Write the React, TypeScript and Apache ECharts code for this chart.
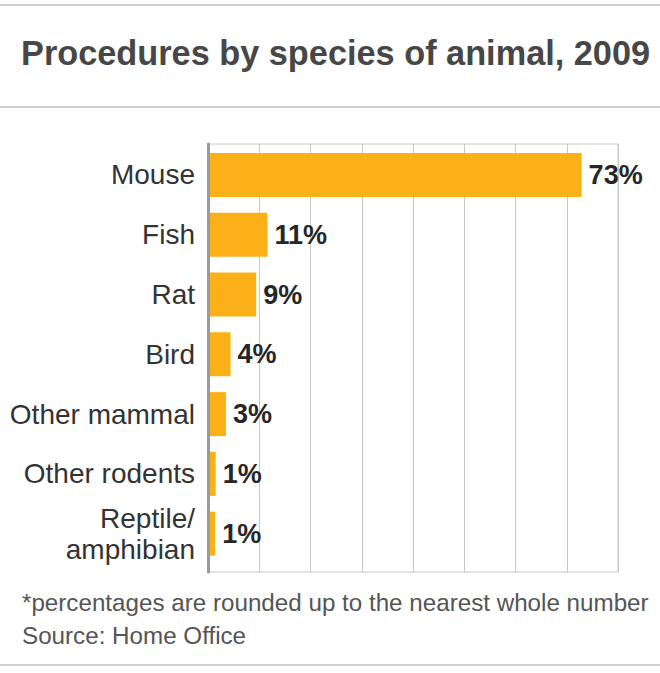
import React, { useEffect, useRef } from "react";
import * as echarts from "echarts";

const titleText = "Procedures by species of animal, 2009";
const categories = ["Mouse", "Fish", "Rat", "Bird", "Other mammal", "Other rodents", "Reptile/\namphibian"];
const values = [72.9, 11.6, 9.4, 4.4, 3.5, 1.5, 1.4];
const valueLabels = ["73%", "11%", "9%", "4%", "3%", "1%", "1%"];
const axisMin = 0;
const axisMax = 80;
const axisInterval = 10;
const footnote = "*percentages are rounded up to the nearest whole number";
const sourceText = "Source: Home Office";

const FONT = "'Liberation Sans', Arial, Helvetica, sans-serif";

export default function App() {
  const ref = useRef<HTMLDivElement>(null);
  useEffect(() => {
    if (!ref.current) return;
    const chart = echarts.init(ref.current, undefined, { renderer: "svg" });
    chart.setOption({
      animation: false,
      backgroundColor: "#ffffff",
      title: {
        text: titleText,
        left: 16,
        top: 31,
        textStyle: { fontFamily: FONT, fontSize: 34.3, fontWeight: "bold", color: "#474747" },
      },
      grid: [
        { left: 208, top: 144, width: 410, height: 428, show: true, borderColor: "#c8c8c8", borderWidth: 1, containLabel: false },
        { left: 208, top: 145, width: 410, height: 418.6, containLabel: false },
      ],
      xAxis: [
        {
          gridIndex: 0, type: "value", min: axisMin, max: axisMax, interval: axisInterval,
          axisLabel: { show: false }, axisTick: { show: false }, axisLine: { show: false },
          splitLine: { show: true, lineStyle: { color: "#c8c8c8", width: 1 } },
        },
        {
          gridIndex: 1, type: "value", min: axisMin, max: axisMax, interval: axisInterval, show: false,
        },
      ],
      yAxis: [
        {
          gridIndex: 0, type: "value", min: 0, max: 1, z: 5,
          axisLabel: { show: false }, axisTick: { show: false }, splitLine: { show: false },
          axisLine: { show: true, lineStyle: { color: "#9a9a9a", width: 3 } },
        },
        {
          gridIndex: 1, type: "category", inverse: true, data: categories,
          axisLine: { show: false }, axisTick: { show: false }, splitLine: { show: false },
          axisLabel: { fontFamily: FONT, fontSize: 28, color: "#333333", margin: 13, lineHeight: 31, align: "right" },
        },
      ],
      series: [
        {
          type: "bar", xAxisIndex: 1, yAxisIndex: 1, data: values, barWidth: 44,
          itemStyle: { color: "#FAB118" },
          label: {
            show: true, position: "right", distance: 7,
            formatter: (p: any) => valueLabels[p.dataIndex],
            fontFamily: FONT, fontSize: 27, fontWeight: "bold", color: "#262626",
          },
        },
      ],
      graphic: [
        { type: "line", shape: { x1: 0, y1: 5, x2: 660, y2: 5 }, style: { stroke: "#d0d0d0", lineWidth: 2 } },
        { type: "line", shape: { x1: 0, y1: 107, x2: 660, y2: 107 }, style: { stroke: "#d0d0d0", lineWidth: 2 } },
        { type: "line", shape: { x1: 0, y1: 665, x2: 660, y2: 665 }, style: { stroke: "#d0d0d0", lineWidth: 2 } },
        { type: "text", left: 22, top: 590, style: { text: footnote, font: `24.2px ${FONT}`, fill: "#555555" } },
        { type: "text", left: 22, top: 623, style: { text: sourceText, font: `24.2px ${FONT}`, fill: "#555555" } },
      ],
    });
    return () => chart.dispose();
  }, []);
  return <div ref={ref} style={{ position: "fixed", left: 0, top: 0, width: 660, height: 673 }} />;
}
